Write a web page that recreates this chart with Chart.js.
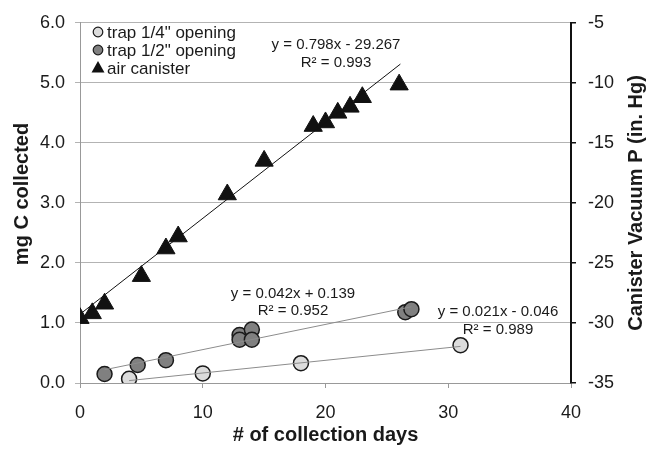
<!DOCTYPE html>
<html>
<head>
<meta charset="utf-8">
<script src="https://cdn.jsdelivr.net/npm/chart.js@4.4.1/dist/chart.umd.min.js"></script>
<style>
  html, body { margin:0; padding:0; background:#fff; }
  #wrap { width:649px; height:450px; }
</style>
</head>
<body>
<div id="wrap"><canvas id="chart" width="649" height="450"></canvas></div>
<script>
// 1) Data
const daysQuarter = [4, 10, 18, 31];
const mgQuarter   = [0.07, 0.16, 0.33, 0.63];

const daysHalf = [2, 4.7, 7, 13, 13, 14, 14, 26.5, 27];
const mgHalf   = [0.15, 0.30, 0.38, 0.80, 0.72, 0.89, 0.72, 1.18, 1.23];

const daysCan = [0, 1, 2, 5, 7, 8, 12, 15, 19, 20, 21, 22, 23, 26];
const vacCan  = [-29.6, -29.2, -28.4, -26.1, -23.8, -22.8, -19.3, -16.5, -13.6, -13.3, -12.5, -12.0, -11.2, -10.15];

// trend line end points (as drawn)
const fitQuarterX = [4, 31],   fitQuarterY = [0.04, 0.61];
const fitHalfX    = [2, 27],   fitHalfY    = [0.22, 1.27];
const fitCanX     = [0, 26.1], fitCanY     = [-29.27, -8.44];

const leftTicks  = [0, 6, 1];
const rightTicks = [-35, -5, 5];
const xTicks     = [0, 40, 10];

const legendLabels = ['trap 1/4" opening', 'trap 1/2" opening', 'air canister'];
const equations = [
  ['y = 0.798x - 29.267', 'R\u00b2 = 0.993'],
  ['y = 0.042x + 0.139', 'R\u00b2 = 0.952'],
  ['y = 0.021x - 0.046', 'R\u00b2 = 0.989']
];

// 2) helpers
const FONT = '"Liberation Sans", Arial, sans-serif';
const pts = (xs, ys) => xs.map((x, i) => ({ x, y: ys[i] }));

// 3) overlay: legend, equations, y titles (both read bottom to top)
const overlay = {
  id: 'overlay',
  afterDraw(chart) {
    const ctx = chart.ctx;
    const y2 = chart.scales.y2;
    ctx.save();

    // legend
    const ds = chart.data.datasets;
    const marks = [ds[3], ds[4], ds[5]];
    const rows = [32, 50, 68];
    marks.forEach((d, i) => {
      const mx = 98, my = rows[i];
      ctx.fillStyle = d.backgroundColor;
      ctx.strokeStyle = d.borderColor;
      ctx.lineWidth = 1.2;
      ctx.beginPath();
      if (d.pointStyle === 'triangle') {
        ctx.moveTo(mx, my - 7);
        ctx.lineTo(mx + 6.5, my + 4.5);
        ctx.lineTo(mx - 6.5, my + 4.5);
        ctx.closePath();
        ctx.fill();
      } else {
        ctx.arc(mx, my, 4.8, 0, Math.PI * 2);
        ctx.fill(); ctx.stroke();
      }
      ctx.fillStyle = '#1a1a1a';
      ctx.font = '17px ' + FONT;
      ctx.textAlign = 'left';
      ctx.textBaseline = 'middle';
      ctx.fillText(legendLabels[i], 107, my + 1);
    });

    // equations
    ctx.font = '15px ' + FONT;
    ctx.fillStyle = '#1a1a1a';
    ctx.textAlign = 'center';
    ctx.textBaseline = 'middle';
    const spots = [[336, 45, 63], [293, 294, 311], [498, 312, 330]];
    equations.forEach((e, i) => {
      ctx.fillText(e[0], spots[i][0], spots[i][1]);
      ctx.fillText(e[1], spots[i][0], spots[i][2]);
    });

    // axis titles
    ctx.font = 'bold 20px ' + FONT;
    ctx.save();
    ctx.translate(22, 194);
    ctx.rotate(-Math.PI / 2);
    ctx.fillText('mg C collected', 0, 0);
    ctx.restore();

    ctx.translate(636, (y2.top + y2.bottom) / 2);
    ctx.rotate(-Math.PI / 2);
    ctx.fillText('Canister Vacuum P (in. Hg)', 0, 0);
    ctx.restore();
  }
};

// 4) chart
new Chart(document.getElementById('chart'), {
  type: 'scatter',
  data: {
    datasets: [
      { type:'line', data: pts(fitCanX, fitCanY), yAxisID:'y2', borderColor:'#111', borderWidth:1, pointRadius:0, fill:false },
      { type:'line', data: pts(fitHalfX, fitHalfY), yAxisID:'y', borderColor:'#8c8c8c', borderWidth:1, pointRadius:0, fill:false },
      { type:'line', data: pts(fitQuarterX, fitQuarterY), yAxisID:'y', borderColor:'#8c8c8c', borderWidth:1, pointRadius:0, fill:false },
      { label: legendLabels[0], data: pts(daysQuarter, mgQuarter), yAxisID:'y', pointStyle:'circle', pointRadius:7.5,
        backgroundColor:'#dcdcdc', borderColor:'#1a1a1a', borderWidth:1.5 },
      { label: legendLabels[1], data: pts(daysHalf, mgHalf), yAxisID:'y', pointStyle:'circle', pointRadius:7.5,
        backgroundColor:'#808080', borderColor:'#1a1a1a', borderWidth:1.5 },
      { label: legendLabels[2], data: pts(daysCan, vacCan), yAxisID:'y2', pointStyle:'triangle', pointRadius:10.5,
        backgroundColor:'#111', borderColor:'#111', borderWidth:1 }
    ]
  },
  options: {
    responsive: false,
    animation: false,
    layout: { padding: { top: 19, left: 0, right: 0, bottom: 0 } },
    plugins: { legend: { display:false }, tooltip: { enabled:false } },
    scales: {
      x: {
        type:'linear', min: xTicks[0], max: xTicks[1],
        ticks: { stepSize: xTicks[2], color:'#1a1a1a', font:{ family:FONT, size:18 }, padding:14 },
        grid: { drawOnChartArea:false, color:'#999', tickLength:5 },
        border: { color:'#999', width:1 },
        title: { display:true, text:'# of collection days', color:'#1a1a1a',
                 font:{ family:FONT, size:20, weight:'bold' }, padding:{ top:0, bottom:3 } },
        afterFit: s => { s.height = 67; }
      },
      y: {
        position:'left', min: leftTicks[0], max: leftTicks[1],
        ticks: { stepSize: leftTicks[2], color:'#1a1a1a', font:{ family:FONT, size:18 }, padding:10,
                 callback: v => v.toFixed(1) },
        grid: { color:'#b3b3b3', tickLength:5 },
        border: { color:'#999', width:1 },
        afterFit: s => { s.width = 80; }
      },
      y2: {
        position:'right', min: rightTicks[0], max: rightTicks[1],
        ticks: { stepSize: rightTicks[2], color:'#1a1a1a', font:{ family:FONT, size:18 }, padding:12 },
        grid: { drawOnChartArea:false, color:'#111', tickLength:5, lineWidth:1.5 },
        border: { color:'#111', width:2 },
        afterFit: s => { s.width = 78; }
      }
    }
  },
  plugins: [overlay]
});
</script>
</body>
</html>
